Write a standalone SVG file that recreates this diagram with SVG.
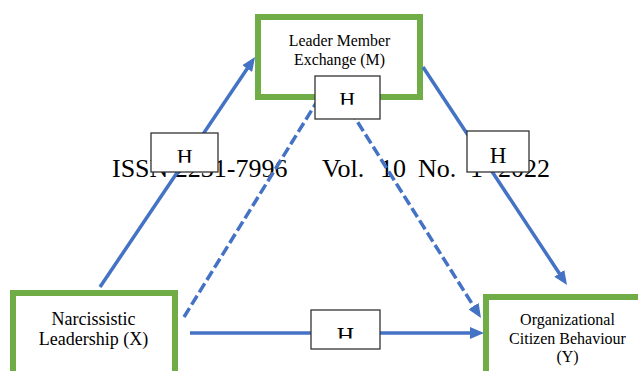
<svg xmlns="http://www.w3.org/2000/svg" width="638" height="371" viewBox="0 0 638 371">
<style>
.node{fill:#fff;stroke:#70AD47;stroke-width:6}
.lbl{font-family:"Liberation Serif","Times New Roman",serif;fill:#000;text-anchor:middle}
.hdr{font-family:"Liberation Serif","Times New Roman",serif;font-size:26px;fill:#000}
.conn{stroke:#4472C4;stroke-width:3.5;fill:none}
.dash{stroke-dasharray:10.5 4}
.hbox{fill:#fff;stroke:#333;stroke-width:1.3}
.h{font-family:"Liberation Serif","Times New Roman",serif;fill:#000;text-anchor:middle}
</style>
<defs>
<marker id="arr" viewBox="0 0 14 12" refX="2" refY="6" markerWidth="14" markerHeight="12" markerUnits="userSpaceOnUse" orient="auto">
<path d="M0,0 L14,6 L0,12 z" fill="#4472C4"/>
</marker>
<clipPath id="cTop"><rect x="315" y="76" width="65" height="28.7"/></clipPath>
<clipPath id="cLeft"><rect x="151" y="133" width="67" height="29.7"/></clipPath>
<clipPath id="cBot"><rect x="311" y="310" width="69" height="28.5"/></clipPath>
</defs>
<rect width="638" height="371" fill="#fff"/>

<g id="node-M">
<rect class="node" x="258" y="17" width="162" height="80"/>
<text class="lbl" font-size="15.8" x="339.5" y="46">Leader Member</text>
<text class="lbl" font-size="15.8" x="339.5" y="65">Exchange (M)</text>
</g>
<g id="node-X">
<rect class="node" x="13" y="293" width="162" height="100"/>
<text class="lbl" font-size="18" x="93.5" y="325">Narcissistic</text>
<text class="lbl" font-size="18" x="93.5" y="345">Leadership (X)</text>
</g>
<g id="node-Y">
<rect class="node" x="486" y="297" width="200" height="100"/>
<text class="lbl" font-size="16" x="567.5" y="325">Organizational</text>
<text class="lbl" font-size="16" x="567.5" y="343.5">Citizen Behaviour</text>
<text class="lbl" font-size="16" x="567.5" y="362">(Y)</text>
</g>

<g id="header">
<text class="hdr" x="112" y="177">ISSN 2231-7996</text>
<text class="hdr" x="322" y="177">Vol.</text>
<text class="hdr" x="380" y="177">10</text>
<text class="hdr" x="418" y="177">No.</text>
<text class="hdr" x="470" y="177">1</text>
<text class="hdr" x="550" y="177" text-anchor="end">2022</text>
</g>

<g id="connectors">
<line class="conn" x1="100" y1="287" x2="248.3" y2="67" marker-end="url(#arr)"/>
<line class="conn" x1="423" y1="67" x2="560.4" y2="275" marker-end="url(#arr)"/>
<line class="conn" x1="190" y1="333" x2="472" y2="333" marker-end="url(#arr)"/>
<line class="conn dash" x1="184" y1="317" x2="318" y2="100"/>
<line class="conn dash" x1="350" y1="110" x2="474.6" y2="307.8" marker-end="url(#arr)"/>
</g>

<g id="h-top">
<rect class="hbox" x="315" y="76" width="65" height="43"/>
<text class="h" font-size="22" x="347.2" y="106.6" clip-path="url(#cTop)">H</text>
</g>
<g id="h-left">
<rect class="hbox" x="151" y="133" width="67" height="39"/>
<text class="h" font-size="22" x="184.7" y="164" clip-path="url(#cLeft)">H</text>
</g>
<g id="h-right">
<rect class="hbox" x="467" y="131" width="62" height="41"/>
<text class="h" font-size="23" x="498" y="162.7">H</text>
</g>
<g id="h-bottom">
<rect class="hbox" x="311" y="310" width="69" height="39"/>
<text class="h" font-size="24" x="345.3" y="342.6" clip-path="url(#cBot)">H</text>
</g>
</svg>
